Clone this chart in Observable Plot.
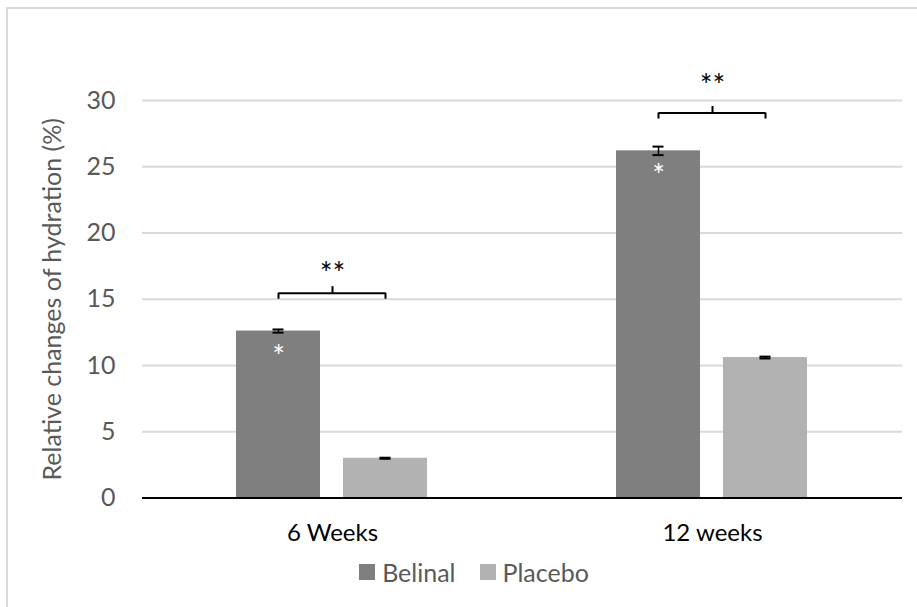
<!DOCTYPE html>
<html><head><meta charset="utf-8">
<script src="https://cdn.jsdelivr.net/npm/d3@7"></script>
<script src="https://cdn.jsdelivr.net/npm/@observablehq/plot@0.6"></script>
<style>
html,body{margin:0;padding:0;background:#fff;overflow:hidden;}
#wrap{position:relative;width:917px;height:607px;font-family:Lato, sans-serif;overflow:hidden;}
#frame{position:absolute;left:6px;top:7px;width:1200px;height:1200px;border:2px solid #d9d9d9;box-sizing:border-box;}
#chart{position:absolute;left:0;top:0;}
#legend{position:absolute;left:0;width:948px;top:555px;height:34px;display:flex;justify-content:center;align-items:center;font-size:25px;color:#595959;}
.item{display:flex;align-items:center;margin:0 12px;}
.sw{width:16px;height:16px;margin-right:7px;}
</style></head>
<body><div id="wrap"><div id="frame"></div><div id="chart"></div><div id="legend"></div></div>
<script>
const times = ["6 Weeks", "12 weeks"];
const series = ["Belinal", "Placebo"];
const belinalValues = [12.6, 26.2];
const placeboValues = [3.0, 10.6];
const belinalErrors = [0.12, 0.32];
const placeboErrors = [0.04, 0.07];
const bracketLevels = [15.45, 29.05];
const starLevels = [17.45, 31.65];
const yTicks = [0, 5, 10, 15, 20, 25, 30];
const colors = ["#7f7f7f", "#b2b2b2"];

const rows = times.flatMap((t, i) => [
  {time: t, series: series[0], value: belinalValues[i], err: belinalErrors[i]},
  {time: t, series: series[1], value: placeboValues[i], err: placeboErrors[i]}
]);
const brackets = times.map((t, i) => ({time: t, y: bracketLevels[i], star: starLevels[i]}));
const bracketEnds = brackets.flatMap(b => series.map(s => ({time: b.time, series: s, y: b.y})));

const capHalf = 6;
const pIn = 0.213, pOut = 0.866;
const bandW = ((917 - 142 - 15) / 2) / (2 - pIn + 2 * pOut) * (1 - pIn);
const capInset = bandW / 2 - capHalf;

const chart = Plot.plot({
  width: 917,
  height: 555,
  marginLeft: 142,
  marginRight: 15,
  marginTop: 100,
  marginBottom: 57.5,
  fx: {domain: times, padding: 0},
  x: {domain: series, paddingInner: pIn, paddingOuter: pOut, axis: null},
  y: {domain: [0, 30]},
  color: {domain: series, range: colors},
  style: {fontFamily: "Lato, sans-serif", background: "transparent", overflow: "visible"},
  marks: [
    Plot.gridY({ticks: yTicks, stroke: "#d9d9d9", strokeWidth: 2, strokeOpacity: 1}),
    Plot.axisY({ticks: yTicks, tickSize: 0, tickPadding: 27, fontSize: 25, color: "#595959",
      label: "Relative changes of hydration (%)", labelAnchor: "center", labelOffset: 99, labelArrow: "none"}),
    Plot.axisFx({anchor: "bottom", tickSize: 0, tickPadding: 26, fontSize: 24, color: "black", label: null}),
    Plot.barY(rows, {fx: "time", x: "series", y: "value", fill: "series"}),
    Plot.ruleY([0], {stroke: "black", strokeWidth: 2}),
    Plot.ruleX(rows, {fx: "time", x: "series", y1: d => d.value - d.err, y2: d => d.value + d.err, stroke: "black", strokeWidth: 1.5}),
    Plot.tickY(rows, {fx: "time", x: "series", y: d => d.value + d.err, insetLeft: capInset, insetRight: capInset, stroke: "black", strokeWidth: 2}),
    Plot.tickY(rows, {fx: "time", x: "series", y: d => d.value - d.err, insetLeft: capInset, insetRight: capInset, stroke: "black", strokeWidth: 2}),
    Plot.text(rows.filter(d => d.series === series[0]), {fx: "time", x: "series", y: "value", text: () => "*", fill: "white", fontSize: 30, dy: 26}),
    Plot.link(brackets, {fx: "time", x1: () => series[0], x2: () => series[1], y1: "y", y2: "y", stroke: "black", strokeWidth: 2}),
    Plot.ruleX(bracketEnds, {fx: "time", x: "series", y1: d => d.y - 0.45, y2: "y", stroke: "black", strokeWidth: 2}),
    Plot.ruleX(brackets, {fx: "time", x: null, y1: "y", y2: d => d.y + 0.5, stroke: "black", strokeWidth: 2}),
    Plot.text(brackets, {fx: "time", y: "star", text: () => "**", fontSize: 30, fill: "black", frameAnchor: "middle", dy: 8})
  ]
});
document.getElementById("chart").appendChild(chart);

const legend = document.getElementById("legend");
series.forEach((s, i) => {
  const item = document.createElement("div");
  item.className = "item";
  const sw = document.createElement("div");
  sw.className = "sw";
  sw.style.background = colors[i];
  const label = document.createElement("span");
  label.textContent = s;
  item.appendChild(sw);
  item.appendChild(label);
  legend.appendChild(item);
});
</script>
</body></html>
